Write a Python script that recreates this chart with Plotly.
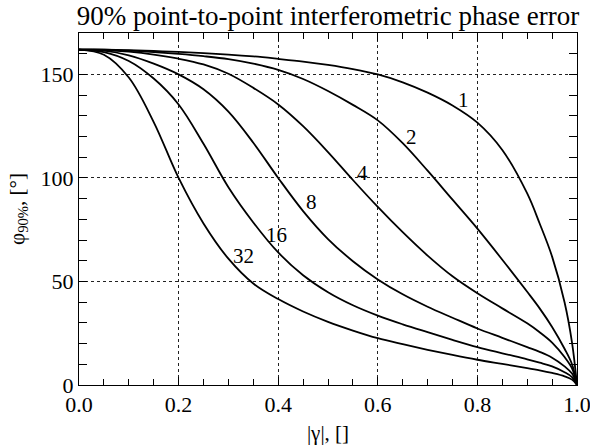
import plotly.graph_objects as go

# coherence samples
gamma = [0.0, 0.05, 0.1, 0.15, 0.2, 0.25, 0.3, 0.35, 0.4, 0.45, 0.5, 0.55, 0.6,
         0.65, 0.7, 0.75, 0.8, 0.85, 0.9, 0.925, 0.95, 0.975, 0.99, 1.0]

# 90% phase error [deg] for number of looks
phi_L1 = [162.0, 162.0, 161.7, 161.3, 160.9, 160.3, 159.6, 158.7, 157.5, 156.2, 154.6, 152.6, 150.0,
          146.2, 141.2, 135.0, 126.7, 113.5, 92.5, 78.0, 62.0, 40.0, 20.5, 0.0]
phi_L2 = [162.0, 161.9, 161.5, 160.8, 159.9, 158.8, 157.4, 155.2, 152.2, 147.8, 142.0, 135.3, 127.8,
          116.8, 103.5, 89.5, 75.5, 60.5, 45.0, 37.0, 28.0, 17.5, 10.0, 0.0]
phi_L4 = [162.0, 161.8, 161.0, 159.6, 157.6, 154.8, 150.3, 143.5, 135.5, 125.0, 112.5, 99.0, 86.0,
          73.8, 62.5, 52.5, 44.3, 37.0, 29.8, 25.5, 20.5, 13.5, 8.0, 0.0]
phi_L8 = [162.0, 161.5, 159.2, 155.2, 150.0, 142.8, 132.0, 117.0, 100.0, 84.0, 70.5, 59.8, 51.0,
          43.8, 37.8, 32.5, 27.3, 22.8, 18.3, 16.0, 13.2, 9.0, 5.5, 0.0]
phi_L16 = [162.0, 160.8, 156.5, 148.0, 135.5, 116.5, 95.5, 78.5, 64.0, 53.0, 44.8, 38.5, 33.5,
           29.3, 25.5, 21.8, 18.3, 15.3, 12.4, 10.8, 9.0, 6.2, 3.8, 0.0]
phi_L32 = [162.0, 159.5, 148.5, 127.0, 100.0, 78.0, 61.0, 49.0, 41.5, 35.5, 30.5, 26.3, 22.6,
           19.7, 17.0, 14.5, 12.2, 10.2, 8.2, 7.1, 5.8, 4.2, 2.6, 0.0]

looks = ["1", "2", "4", "8", "16", "32"]
series = [phi_L1, phi_L2, phi_L4, phi_L8, phi_L16, phi_L32]

# x tick values / labels
x_ticks = [0.0, 0.2, 0.4, 0.6, 0.8, 1.0]
x_tick_text = ["0.0", "0.2", "0.4", "0.6", "0.8", "1.0"]

# curve label anchor positions (gamma, phi)
label_pos = [(0.773, 137.5), (0.668, 120.0), (0.570, 102.5), (0.467, 88.5), (0.397, 72.6), (0.330, 62.4)]

FONT = "Liberation Serif, Times New Roman, serif"

fig = go.Figure()
for name, vals in zip(looks, series):
    fig.add_trace(go.Scatter(
        x=gamma, y=vals, mode="lines", name=name,
        line=dict(color="black", width=1.8, shape="spline", smoothing=1.0),
        showlegend=False, hoverinfo="skip", cliponaxis=True))

annotations = []
for name, (gx, gy) in zip(looks, label_pos):
    annotations.append(dict(x=gx, y=gy, xref="x", yref="y", text=name, showarrow=False,
                            font=dict(family=FONT, size=21, color="black"),
                            xanchor="center", yanchor="middle"))

axis_common = dict(
    showline=True, linecolor="black", linewidth=1, mirror="allticks",
    ticks="inside", tickcolor="black", tickwidth=1,
    showgrid=True, gridcolor="#222", gridwidth=1, griddash="dot",
    zeroline=False, automargin=False, ticklabeloverflow="allow",
    tickfont=dict(family=FONT, size=22, color="black"),
)

fig.update_layout(
    width=590, height=446,
    margin=dict(l=79, r=13, t=33, b=61),
    paper_bgcolor="white", plot_bgcolor="white",
    title=dict(text="90% point-to-point interferometric phase error",
               font=dict(family=FONT, size=27, color="black"),
               x=0.5, xref="paper", xanchor="center",
               y=1 - 16 / 446, yref="container", yanchor="middle"),
    xaxis=dict(range=[0, 1.00001], tickmode="array", tickvals=x_ticks, ticktext=x_tick_text,
               ticklen=8,
               minor=dict(tickmode="linear", tick0=0, dtick=0.05, ticks="inside", ticklen=6,
                          tickcolor="black", showgrid=False),
               title=dict(text="|γ|, []", font=dict(family=FONT, size=21, color="black"), standoff=8),
               **axis_common),
    yaxis=dict(range=[0, 170], tick0=0, dtick=50, ticklen=8,
               minor=dict(dtick=10, ticks="inside", ticklen=8, tickcolor="black", showgrid=False),
               title=dict(text="φ<sub>90%</sub>, [°]", font=dict(family=FONT, size=21, color="black"), standoff=10),
               **axis_common),
    annotations=annotations,
)

fig.write_html("out.html", config={"displayModeBar": False},
               post_script="document.body.style.margin='0';document.body.style.overflow='hidden';")
